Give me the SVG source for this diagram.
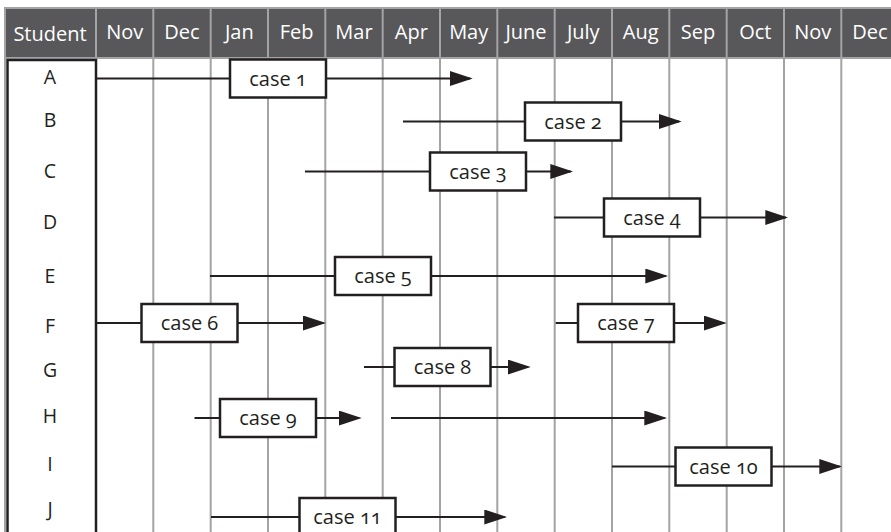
<svg xmlns="http://www.w3.org/2000/svg" width="891" height="532" viewBox="0 0 891 532">
<style>
  .hdr { fill: #58585a; stroke: #a3a3a6; stroke-width: 2; }
  .grid line { stroke: #a3a3a6; stroke-width: 2; }
  .htext { font-family: "Open Sans", "Noto Sans", sans-serif; font-size: 20px; fill: #ffffff; text-anchor: middle; }
  .rtext { font-family: "Open Sans", "Noto Sans", sans-serif; font-size: 19.5px; fill: #231f20; text-anchor: middle; }
  .stu { fill: #ffffff; stroke: #231f20; stroke-width: 2.5; }
  .conn path { fill: none; stroke: #231f20; stroke-width: 2.2; }
  .box rect { fill: #ffffff; stroke: #231f20; stroke-width: 2.5; }
  .box text { font-family: "Open Sans", "Noto Sans", sans-serif; font-size: 20px; fill: #231f20; text-anchor: middle; font-variant-numeric: oldstyle-nums; font-feature-settings: "onum" 1; }
</style>
<defs>
  <marker id="arr" markerUnits="userSpaceOnUse" viewBox="0 0 23 15" markerWidth="23" markerHeight="15" refX="20.5" refY="7.5" orient="auto">
    <path d="M0,0 L23,7.5 L0,15 Z" fill="#231f20"/>
  </marker>
</defs>
<rect width="891" height="532" fill="#ffffff"/>
<g id="header">
  <rect class="hdr" x="5" y="8" width="890" height="50"/>
</g>
<g id="grid" class="grid">
  <line x1="5" y1="8" x2="5" y2="532"/>
  <line x1="96" y1="8" x2="96" y2="60"/>
  <line x1="153.3" y1="8" x2="153.3" y2="532"/>
  <line x1="210.7" y1="8" x2="210.7" y2="532"/>
  <line x1="268" y1="8" x2="268" y2="532"/>
  <line x1="325.3" y1="8" x2="325.3" y2="532"/>
  <line x1="382.7" y1="8" x2="382.7" y2="532"/>
  <line x1="440" y1="8" x2="440" y2="532"/>
  <line x1="497.3" y1="8" x2="497.3" y2="532"/>
  <line x1="554.7" y1="8" x2="554.7" y2="532"/>
  <line x1="612" y1="8" x2="612" y2="532"/>
  <line x1="669.3" y1="8" x2="669.3" y2="532"/>
  <line x1="726.7" y1="8" x2="726.7" y2="532"/>
  <line x1="784" y1="8" x2="784" y2="532"/>
  <line x1="841.3" y1="8" x2="841.3" y2="532"/>
</g>
<g id="header-labels">
  <text class="htext" x="50" y="41">Student</text>
  <text class="htext" x="124.7" y="39">Nov</text>
  <text class="htext" x="182" y="39">Dec</text>
  <text class="htext" x="239.3" y="39">Jan</text>
  <text class="htext" x="296.7" y="39">Feb</text>
  <text class="htext" x="354" y="39">Mar</text>
  <text class="htext" x="411.3" y="39">Apr</text>
  <text class="htext" x="468.7" y="39">May</text>
  <text class="htext" x="526" y="39">June</text>
  <text class="htext" x="583.3" y="39">July</text>
  <text class="htext" x="640.7" y="39">Aug</text>
  <text class="htext" x="698" y="39">Sep</text>
  <text class="htext" x="755.3" y="39">Oct</text>
  <text class="htext" x="812.7" y="39">Nov</text>
  <text class="htext" x="870" y="39">Dec</text>
</g>
<g id="students">
  <rect class="stu" x="7.5" y="60" width="88.5" height="480"/>
  <text class="rtext" x="50" y="84">A</text>
  <text class="rtext" x="50" y="127">B</text>
  <text class="rtext" x="50" y="178">C</text>
  <text class="rtext" x="50" y="229">D</text>
  <text class="rtext" x="50" y="283">E</text>
  <text class="rtext" x="50" y="333">F</text>
  <text class="rtext" x="50" y="377">G</text>
  <text class="rtext" x="50" y="423">H</text>
  <text class="rtext" x="50" y="471">I</text>
  <text class="rtext" x="50" y="516">J</text>
</g>
<g id="connectors" class="conn">
  <path d="M96,78.5 H470.2" marker-end="url(#arr)"/>
  <path d="M403,121.5 H679.2" marker-end="url(#arr)"/>
  <path d="M305,171.5 H570.8" marker-end="url(#arr)"/>
  <path d="M554,217.5 H785.8" marker-end="url(#arr)"/>
  <path d="M210,276 H665.8" marker-end="url(#arr)"/>
  <path d="M96,323 H323.5" marker-end="url(#arr)"/>
  <path d="M555.7,323 H724.2" marker-end="url(#arr)"/>
  <path d="M364,367 H528.2" marker-end="url(#arr)"/>
  <path d="M194.5,418 H359.2" marker-end="url(#arr)"/>
  <path d="M391,418 H664.8" marker-end="url(#arr)"/>
  <path d="M612,466.5 H839.8" marker-end="url(#arr)"/>
  <path d="M211,517 H504.8" marker-end="url(#arr)"/>
</g>
<g id="case1" class="box"><rect x="230" y="59.5" width="96" height="38"/><text x="278" y="85.5">case 1</text></g>
<g id="case2" class="box"><rect x="525" y="102.5" width="96" height="38"/><text x="573" y="128.5">case 2</text></g>
<g id="case3" class="box"><rect x="430" y="152.5" width="96" height="38"/><text x="478" y="178.5">case 3</text></g>
<g id="case4" class="box"><rect x="604" y="198.5" width="96" height="38"/><text x="652" y="224.5">case 4</text></g>
<g id="case5" class="box"><rect x="335" y="257" width="96" height="38"/><text x="383" y="283">case 5</text></g>
<g id="case6" class="box"><rect x="141.5" y="304" width="96" height="38"/><text x="189.5" y="330">case 6</text></g>
<g id="case7" class="box"><rect x="578" y="304" width="96" height="38"/><text x="626" y="330">case 7</text></g>
<g id="case8" class="box"><rect x="394.5" y="348" width="96" height="38"/><text x="442.5" y="374">case 8</text></g>
<g id="case9" class="box"><rect x="220" y="399" width="96" height="38"/><text x="268" y="425">case 9</text></g>
<g id="case10" class="box"><rect x="675.5" y="447.5" width="96" height="38"/><text x="723.5" y="473.5">case 10</text></g>
<g id="case11" class="box"><rect x="299.5" y="498" width="96" height="38"/><text x="347.5" y="524">case 11</text></g>
</svg>
